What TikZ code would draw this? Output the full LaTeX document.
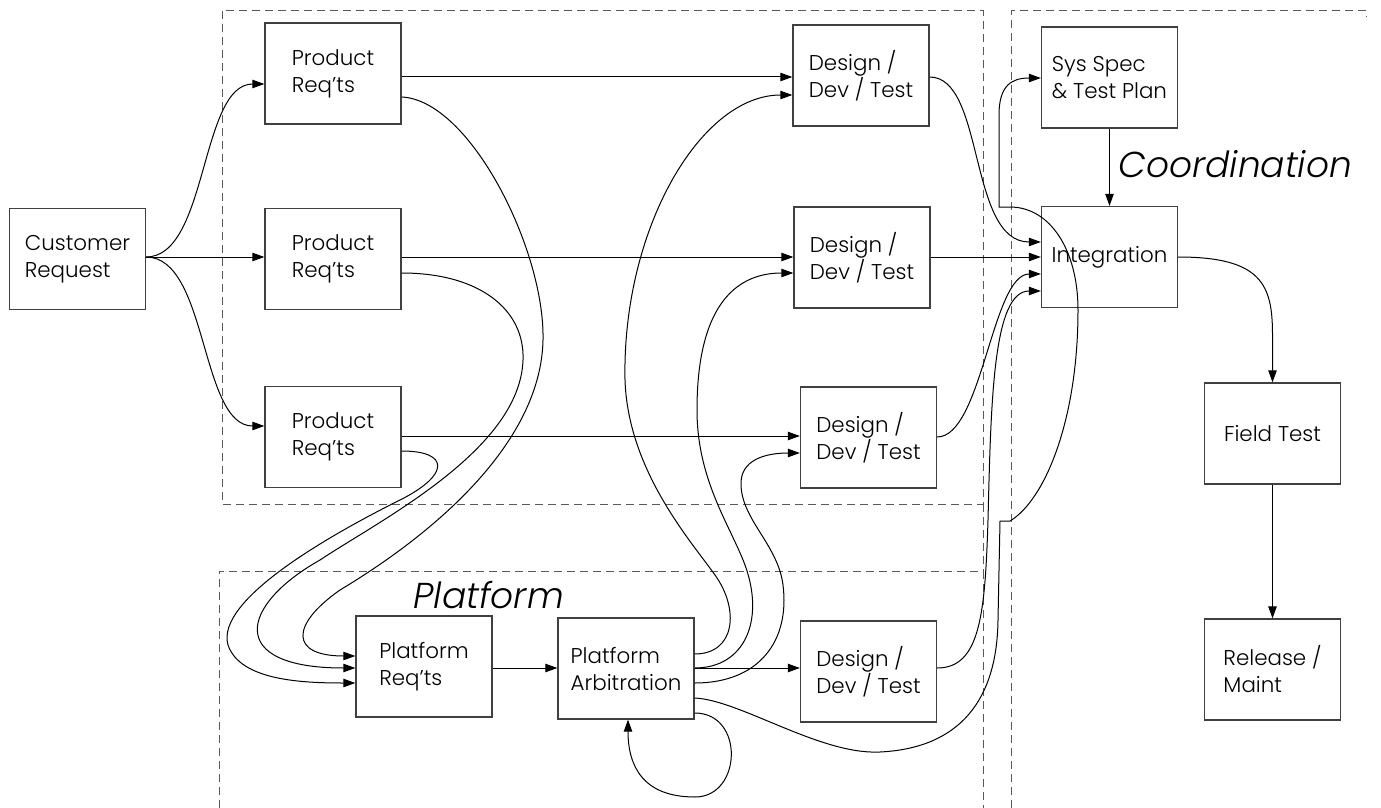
\documentclass[tikz,border=0pt]{standalone}
\usepackage{fontspec}
\setmainfont{Poppins}[UprightFont=* Light, ItalicFont=* Light Italic]
\usetikzlibrary{arrows.meta}
\begin{document}
\begin{tikzpicture}[x=0.5pt, y=-0.5pt, line width=0.5pt,
  >={Triangle[length=6pt, width=4.2pt]},
  every node/.style={font=\fontsize{10.7}{13.5}\selectfont},
  box/.style={draw=black!75, line width=0.6pt, minimum width=68pt, minimum height=50.5pt, inner sep=0pt, align=left},
  region/.style={draw=black!65, dash pattern=on 4pt off 2.5pt},
  title/.style={font=\itshape\fontsize{18}{20}\selectfont, anchor=base west, inner sep=0pt}]
  \useasboundingbox (0,0) rectangle (1381,808);
  % dashed regions
  \draw[region] (222,11) rectangle (983,504);
  \draw[region] (983,504) -- (983,571);
  \draw[region] (219,808) -- (219,571) -- (983,571) -- (983,808);
  \draw[region] (1011,808) -- (1011,11) -- (1366,11) -- (1366,17);
  \node[title] (coord) at (1118,177) {Coordination};
  \node[title] (plat) at (413,608) {Platform};
  % customer and product requirements
  \node[box] (cust) at (77.5,259) {Customer\\Request};
  \node[box] (pr1) at (333,73.5) {Product\\Req'ts};
  \node[box] (pr2) at (333,259) {Product\\Req'ts};
  \node[box] (pr3) at (333,437) {Product\\Req'ts};
  % design boxes
  \node[box] (dd1) at (861,75.5) {Design /\\Dev / Test};
  \node[box] (dd2) at (862,257.5) {Design /\\Dev / Test};
  \node[box] (dd3) at (868.5,437.5) {Design /\\Dev / Test};
  \node[box] (dd4) at (868.5,671.5) {Design /\\Dev / Test};
  % platform
  \node[box] (preq) at (424,666.5) {Platform\\Req'ts};
  \node[box] (parb) at (626,668.5) {Platform\\Arbitration};
  % coordination
  \node[box] (spec) at (1109.5,77.5) {Sys Spec\\\& Test Plan};
  \node[box] (integ) at (1109.5,257) {Integration};
  \node[box] (field) at (1272.5,433.5) {Field Test};
  \node[box] (rel) at (1272.5,669.5) {Release /\\Maint};
  % customer to products
  \draw[->] (cust.east |- 0,257) .. controls (208,257) and (200,84) .. (pr1.west |- 0,84);
  \draw[->] (cust.east |- 0,257) -- (pr2.west |- 0,257);
  \draw[->] (cust.east |- 0,257) .. controls (208,257) and (200,426) .. (pr3.west |- 0,426);
  % products to design
  \draw[->] (pr1.east |- 0,77) -- (dd1.west |- 0,77);
  \draw[->] (pr2.east |- 0,257) -- (dd2.west |- 0,257);
  \draw[->] (pr3.east |- 0,436) -- (dd3.west |- 0,436);
  % products to platform req'ts
  \draw[->] (pr1.east |- 0,97) .. controls (470,100) and (545,250) .. (543,340)
    .. controls (541,440) and (440,530) .. (340,590)
    .. controls (290,625) and (290,656) .. (preq.west |- 0,656);
  \draw[->] (pr2.east |- 0,273) .. controls (480,273) and (525,310) .. (523,360)
    .. controls (520,450) and (380,520) .. (320,560)
    .. controls (240,605) and (225,668) .. (preq.west |- 0,668);
  \draw[->] (pr3.east |- 0,451) .. controls (450,451) and (450,475) .. (400,500)
    .. controls (330,535) and (215,600) .. (228,645)
    .. controls (240,680) and (300,683) .. (preq.west |- 0,683);
  % platform flow
  \draw[->] (preq.east |- 0,668) -- (parb.west |- 0,668);
  \draw[->] (parb.east |- 0,668) -- (dd4.west |- 0,668);
  \draw[->] (parb.east |- 0,654) .. controls (735,654) and (740,610) .. (715,575)
    .. controls (690,540) and (628,470) .. (625,380)
    .. controls (622,230) and (700,95) .. (dd1.west |- 0,95);
  \draw[->] (parb.east |- 0,668) .. controls (745,668) and (765,620) .. (745,565)
    .. controls (730,525) and (697,480) .. (697,410)
    .. controls (697,300) and (740,273) .. (dd2.west |- 0,273);
  \draw[->] (parb.east |- 0,683) .. controls (760,683) and (790,640) .. (783,585)
    .. controls (778,545) and (742,520) .. (741,485)
    .. controls (740,460) and (765,453) .. (dd3.west |- 0,453);
  \draw[->] (parb.east |- 0,713) .. controls (745,713) and (742,797) .. (695,797)
    .. controls (642,797) and (628,765) .. (628,0 |- parb.south);
  \draw[->] (parb.east |- 0,698) .. controls (740,700) and (820,755) .. (880,752)
    .. controls (960,748) and (997,700) .. (998,620) -- (1000,521) -- (1010,521)
    .. controls (1045,500) and (1078,420) .. (1078,310)
    .. controls (1078,250) and (1050,207) .. (1010,207) -- (999,207) -- (999,115)
    .. controls (999,85) and (1012,78) .. (spec.west |- 0,78);
  % design to integration
  \draw[->] (dd1.east |- 0,77) .. controls (985,77) and (968,242) .. (integ.west |- 0,242);
  \draw[->] (dd2.east |- 0,257) -- (integ.west |- 0,257);
  \draw[->] (dd3.east |- 0,437) .. controls (982,437) and (992,274) .. (integ.west |- 0,274);
  \draw[->] (dd4.east |- 0,668) .. controls (980,668) and (985,615) .. (988,520)
    .. controls (991,400) and (993,291) .. (integ.west |- 0,291);
  % coordination flow
  \draw[->] (spec) -- (integ);
  \draw[->] (integ.east) .. controls (1262,257) and (1272.5,285) .. (1272.5,335) -- (field.north);
  \draw[->] (field) -- (rel);
\end{tikzpicture}
\end{document}
